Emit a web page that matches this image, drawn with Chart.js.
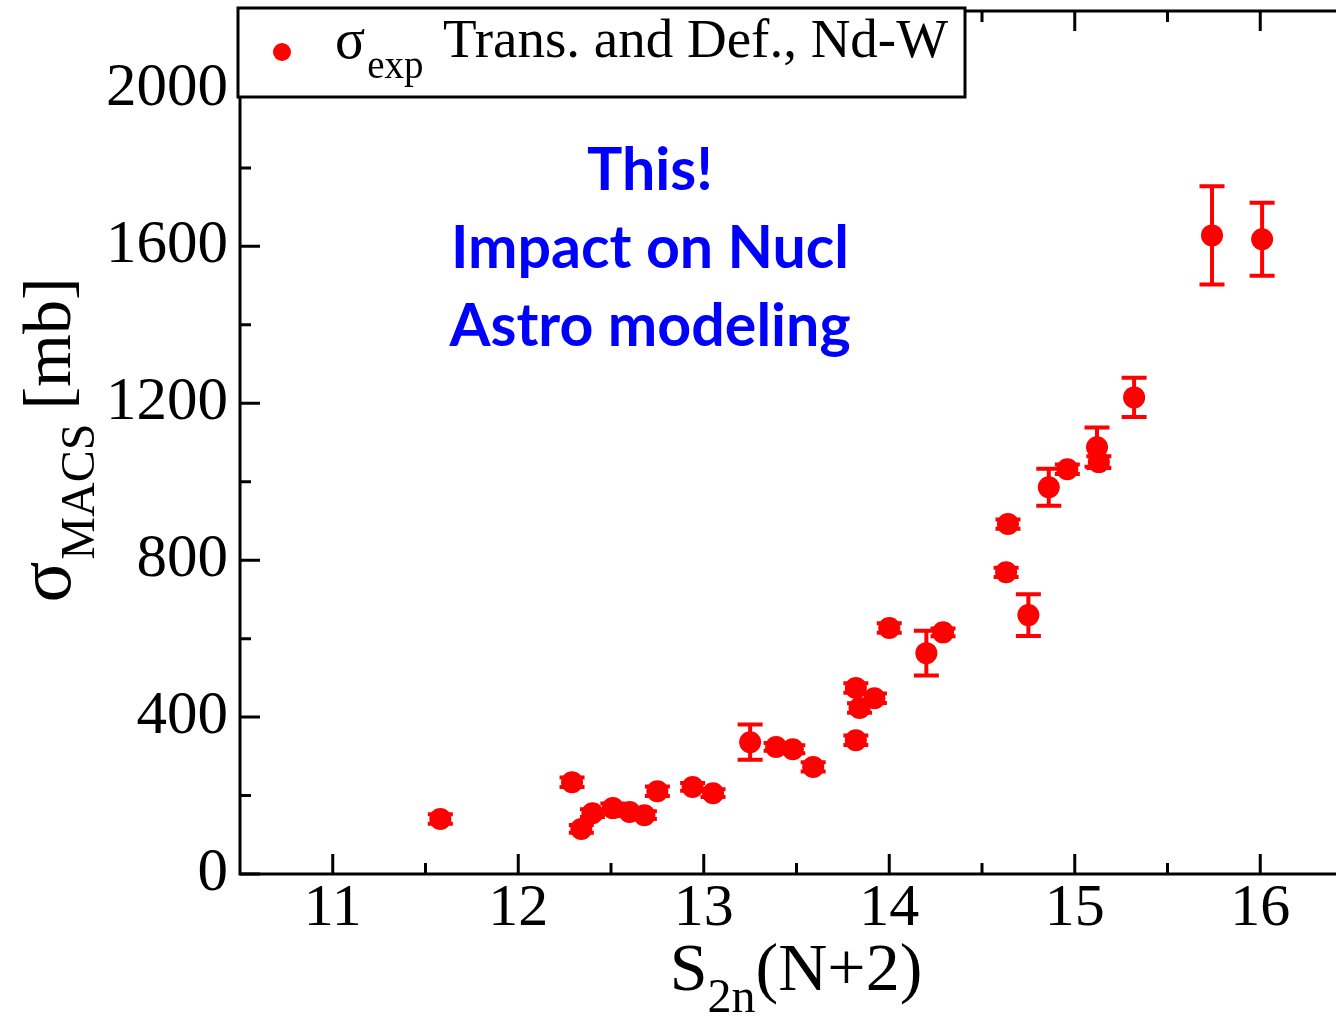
<!DOCTYPE html>
<html>
<head>
<meta charset="utf-8">
<title>MACS vs S2n</title>
<script src="https://cdn.jsdelivr.net/npm/chart.js@4.4.1/dist/chart.umd.min.js"></script>
<style>
  html, body { margin: 0; padding: 0; background: #fff; overflow: hidden; }
  canvas { display: block; }
</style>
</head>
<body>
<canvas id="macsChart" width="1364" height="1018"></canvas>
<script>
// S2n(N+2) in MeV, MACS in mb, with the experimental uncertainty
const s2n = [11.58, 12.29, 12.34, 12.40, 12.51, 12.60, 12.68, 12.75, 12.94, 13.05,
  13.25, 13.39, 13.48, 13.59, 13.82, 13.82, 13.92, 13.84, 14.00, 14.20,
  14.29, 14.63, 14.64, 14.75, 14.86, 14.96, 15.12, 15.13, 15.32, 15.74, 16.01];
const macs = [140, 234, 115, 155, 168, 158, 150, 211, 222, 206,
  336, 324, 318, 273, 341, 474, 448, 423, 627, 563,
  616, 769, 892, 660, 986, 1032, 1088, 1050, 1215, 1628, 1618];
const macsErr = [12, 12, 10, 10, 12, 10, 10, 12, 10, 10,
  45, 10, 10, 12, 12, 12, 12, 12, 12, 57,
  10, 12, 12, 53, 47, 12, 50, 15, 50, 125, 93];

const xTicks = [11, 12, 13, 14, 15, 16];
const xMinorTicks = [11.5, 12.5, 13.5, 14.5, 15.5];
const yTicks = [0, 400, 800, 1200, 1600, 2000];
const yMinorTicks = [200, 600, 1000, 1400, 1800];

const legendLabel = "Trans. and Def., Nd-W";
const noteLines = ["This!", "Impact on Nucl", "Astro modeling"];

const RED = "#ff0000";
const SERIF = "'Liberation Serif', 'DejaVu Serif', serif";

// draws a run of text pieces, each with its own size and baseline shift
function drawRuns(ctx, x, y, runs) {
  for (const r of runs) {
    ctx.font = r.size + "px " + SERIF;
    ctx.fillText(r.text, x, y + (r.dy || 0));
    x += ctx.measureText(r.text).width + (r.gap || 0);
  }
  return x;
}
function runsWidth(ctx, runs) {
  let w = 0;
  for (const r of runs) {
    ctx.font = r.size + "px " + SERIF;
    w += ctx.measureText(r.text).width + (r.gap || 0);
  }
  return w;
}

const errorBars = {
  id: "errorBars",
  beforeDatasetsDraw(chart) {
    const { ctx, scales: { x, y } } = chart;
    ctx.save();
    ctx.strokeStyle = RED;
    ctx.lineWidth = 4;
    s2n.forEach((sv, i) => {
      const px = x.getPixelForValue(sv);
      const top = y.getPixelForValue(macs[i] + macsErr[i]);
      const bot = y.getPixelForValue(macs[i] - macsErr[i]);
      ctx.beginPath();
      ctx.moveTo(px, top); ctx.lineTo(px, bot);
      ctx.moveTo(px - 12.5, top); ctx.lineTo(px + 12.5, top);
      ctx.moveTo(px - 12.5, bot); ctx.lineTo(px + 12.5, bot);
      ctx.stroke();
    });
    ctx.restore();
  }
};

const decorations = {
  id: "decorations",
  afterDraw(chart) {
    const { ctx, chartArea: a, scales: { x, y } } = chart;
    ctx.save();
    ctx.strokeStyle = "#000";
    ctx.lineWidth = 3;
    ctx.strokeRect(a.left, a.top, a.right - a.left, a.bottom - a.top);

    // inward tick marks
    ctx.beginPath();
    const xt = (v, len) => {
      const px = x.getPixelForValue(v);
      ctx.moveTo(px, a.bottom); ctx.lineTo(px, a.bottom - len);
      ctx.moveTo(px, a.top); ctx.lineTo(px, a.top + len);
    };
    const yt = (v, len) => {
      const py = y.getPixelForValue(v);
      ctx.moveTo(a.left, py); ctx.lineTo(a.left + len, py);
    };
    xTicks.forEach(v => xt(v, 20));
    xMinorTicks.forEach(v => xt(v, 11));
    yTicks.forEach(v => yt(v, 20));
    yMinorTicks.forEach(v => yt(v, 11));
    ctx.stroke();

    // legend box
    ctx.fillStyle = "#fff";
    ctx.fillRect(238, 8, 727, 89);
    ctx.strokeRect(238, 8, 727, 89);
    ctx.fillStyle = RED;
    ctx.beginPath();
    ctx.arc(282, 52, 9, 0, Math.PI * 2);
    ctx.fill();
    ctx.fillStyle = "#000";
    ctx.textAlign = "left";
    ctx.textBaseline = "alphabetic";
    drawRuns(ctx, 335, 58, [{ text: "σ", size: 56, gap: 2 }, { text: "exp", size: 39, dy: 20 }]);
    ctx.font = "55px " + SERIF;
    ctx.fillText(legendLabel, 443, 57);

    // x axis title
    const xRuns = [
      { text: "S", size: 68 },
      { text: "2n", size: 48, dy: 22 },
      { text: "(N+2)", size: 68 }
    ];
    drawRuns(ctx, 796 - runsWidth(ctx, xRuns) / 2, 990, xRuns);

    // y axis title, rotated
    const yRuns = [
      { text: "σ", size: 76, gap: 2 },
      { text: "MACS", size: 48, dy: 24, gap: 14 },
      { text: "[mb]", size: 68 }
    ];
    ctx.translate(70, 440);
    ctx.rotate(-Math.PI / 2);
    drawRuns(ctx, -runsWidth(ctx, yRuns) / 2, 0, yRuns);
    ctx.setTransform(1, 0, 0, 1, 0, 0);

    // blue annotation
    ctx.fillStyle = "#0000ff";
    ctx.textAlign = "center";
    ctx.font = "bold 100px Lato";
    const size = 100 * 398 / ctx.measureText(noteLines[1]).width;
    ctx.font = "bold " + size.toFixed(1) + "px Lato";
    [190, 268, 346].forEach((by, i) => ctx.fillText(noteLines[i], 650, by));
    ctx.restore();
  }
};

new Chart(document.getElementById("macsChart"), {
  type: "scatter",
  data: {
    datasets: [{
      label: "σexp " + legendLabel,
      data: s2n.map((v, i) => ({ x: v, y: macs[i] })),
      pointRadius: 11,
      pointHoverRadius: 11,
      backgroundColor: RED,
      borderWidth: 0
    }]
  },
  options: {
    responsive: false,
    animation: false,
    layout: { padding: { top: 5, right: 3, left: 0, bottom: 0 } },
    plugins: { legend: { display: false }, tooltip: { enabled: false } },
    scales: {
      x: {
        type: "linear",
        min: 10.5,
        max: 16.5,
        afterBuildTicks: s => { s.ticks = xTicks.map(v => ({ value: v })); },
        afterFit: s => { s.height = 144; s.paddingLeft = 0; s.paddingRight = 0; },
        grid: { display: false, drawTicks: false },
        border: { display: false },
        ticks: { color: "#000", padding: 5, maxRotation: 0, font: { family: SERIF, size: 60, lineHeight: 1 } }
      },
      y: {
        type: "linear",
        min: 0,
        max: 2200,
        afterBuildTicks: s => { s.ticks = yTicks.map(v => ({ value: v })); },
        afterFit: s => { s.width = 240; s.paddingTop = 0; s.paddingBottom = 0; },
        grid: { display: false, drawTicks: false },
        border: { display: false },
        ticks: { color: "#000", padding: 12, callback: v => String(v), font: { family: SERIF, size: 61, lineHeight: 1 } }
      }
    }
  },
  plugins: [errorBars, decorations]
});
</script>
</body>
</html>
